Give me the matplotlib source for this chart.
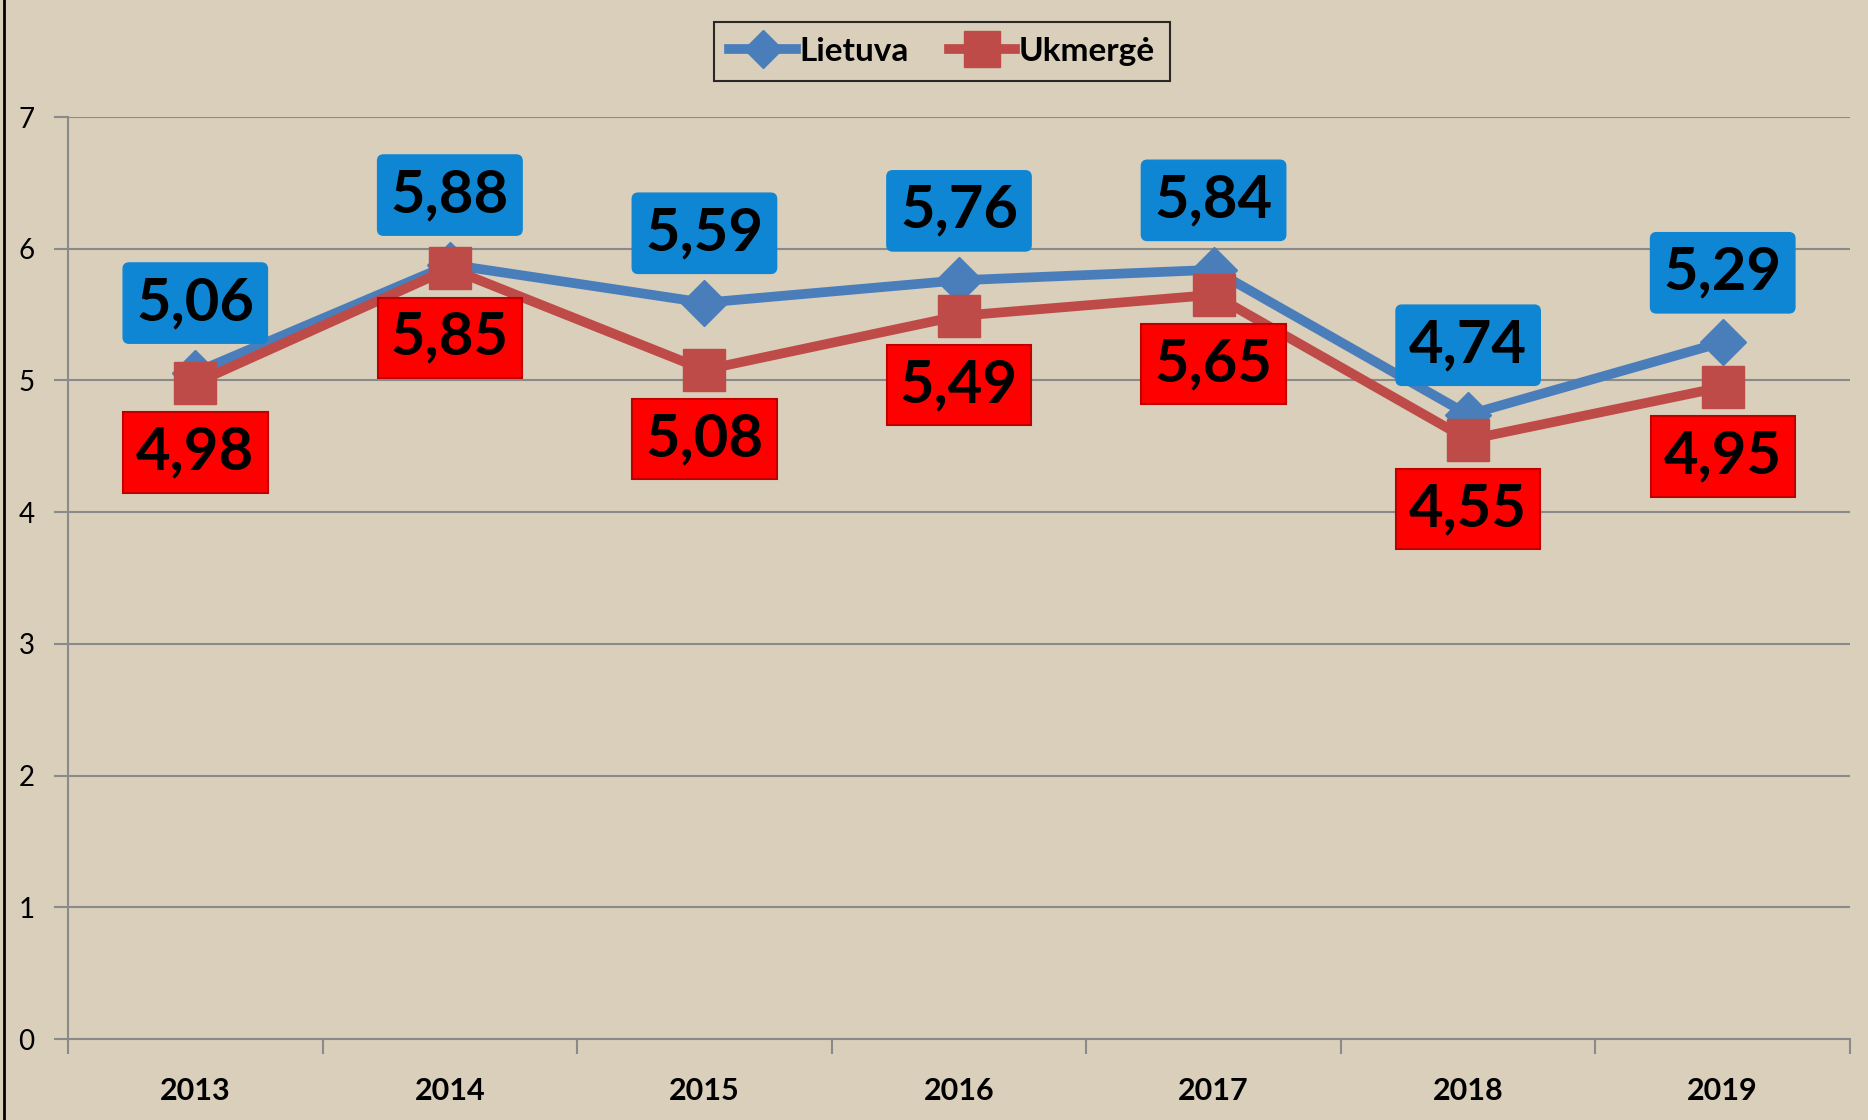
import matplotlib.pyplot as plt
from matplotlib.lines import Line2D

plt.rcParams['font.family'] = ['Lato', 'DejaVu Sans']

years = ['2013', '2014', '2015', '2016', '2017', '2018', '2019']
lietuva = [5.06, 5.88, 5.59, 5.76, 5.84, 4.74, 5.29]
ukmerge = [4.98, 5.85, 5.08, 5.49, 5.65, 4.55, 4.95]

bg = '#D9CFBB'
grid_c = '#8A8A8A'
blue_line = '#4A7EBB'
red_line = '#BE4B48'

fig = plt.figure(figsize=(18.68, 11.2), dpi=100, facecolor=bg)
ax = fig.add_axes([68 / 1868, 1 - 1039 / 1120, (1850 - 68) / 1868, (1039 - 117) / 1120])
ax.set_facecolor(bg)

x = list(range(len(years)))
ax.plot(x, lietuva, color=blue_line, lw=7, marker='D', ms=23, mfc=blue_line, mec=blue_line,
        label='Lietuva', zorder=3, solid_joinstyle='round')
ax.plot(x, ukmerge, color=red_line, lw=7, marker='s', ms=30, mfc=red_line, mec=red_line,
        label='Ukmergė', zorder=4, solid_joinstyle='round')

# data labels: blue above, red below
for xi, v in zip(x, lietuva):
    ax.annotate(f'{v:.2f}'.replace('.', ','), (xi, v), xytext=(0, 50), textcoords='offset points',
                ha='center', va='center', fontsize=43, fontweight='bold', color='black', zorder=6,
                bbox=dict(boxstyle='round,pad=0.22,rounding_size=0.1', fc='#0E86D4', ec='#0E86D4'))
for xi, v in zip(x, ukmerge):
    ax.annotate(f'{v:.2f}'.replace('.', ','), (xi, v), xytext=(0, -50), textcoords='offset points',
                ha='center', va='center', fontsize=43, fontweight='bold', color='black', zorder=6,
                bbox=dict(boxstyle='square,pad=0.22', fc='#FF0000', ec='#C00000', lw=1.5))

ax.set_xlim(-0.5, len(years) - 0.5)
ax.set_ylim(0, 7)
ax.set_yticks(range(0, 8))
ax.yaxis.grid(True, color=grid_c, lw=1.5)
ax.set_axisbelow(True)
ax.tick_params(axis='y', length=10, width=1.5, color=grid_c, pad=14, labelsize=20)

ax.set_xticks([i - 0.5 for i in range(len(years) + 1)])
ax.set_xticklabels([])
ax.set_xticks(x, minor=True)
ax.set_xticklabels(years, minor=True, fontsize=22, fontweight='bold')
ax.tick_params(axis='x', which='major', length=11, width=1.5, color=grid_c)
ax.tick_params(axis='x', which='minor', length=0, pad=27)

for s in ['top', 'right']:
    ax.spines[s].set_visible(False)
for s in ['left', 'bottom']:
    ax.spines[s].set_color(grid_c)
    ax.spines[s].set_linewidth(1.5)

leg = ax.legend(loc='upper center', bbox_to_anchor=(942 / 1868, 1 - 22 / 1120),
                bbox_transform=fig.transFigure, ncol=2, prop={'weight': 'bold', 'size': 24},
                frameon=True, fancybox=False, edgecolor='black', facecolor='none', borderaxespad=0,
                handlelength=2.0, columnspacing=1.2, handletextpad=0.1, borderpad=0.45, markerscale=0.85)
leg.get_frame().set_linewidth(1.5)

fig.add_artist(Line2D([4 / 1868, 4 / 1868], [0, 1], color='black', lw=2, transform=fig.transFigure))

fig.savefig('out.png', dpi=100, facecolor=bg)
